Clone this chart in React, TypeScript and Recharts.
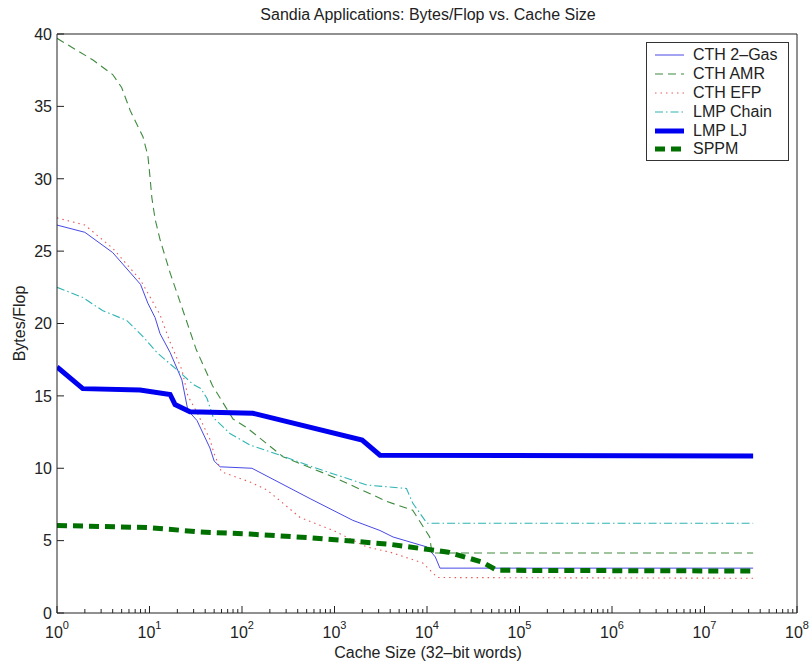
import React from "react";
import { LineChart, Line, XAxis, YAxis, Legend, Customized } from "recharts";

// Bytes/Flop required at each cache size (in 32-bit words), per application.
const CTH_2GAS: [number, number][] = [
  [1, 26.8], [2, 26.3], [4, 24.9], [8, 22.7], [9.6, 21.4], [11.5, 20.4], [13, 19.3],
  [16.7, 18.0], [22.4, 16.1], [26, 14.0], [32.6, 13.3], [45, 11.4], [50, 10.5],
  [58, 10.1], [128, 10.0], [545, 7.9], [1580, 6.4], [3100, 5.7], [4300, 5.25],
  [10000, 4.56], [12300, 3.87], [13800, 3.1], [33554432, 3.1],
];
const CTH_AMR: [number, number][] = [
  [1, 39.7], [2.45, 38.2], [4, 37.2], [5, 36.3], [6.2, 34.7], [8.5, 32.9], [9.6, 31.6],
  [10.1, 30.2], [10.6, 28.7], [11.5, 27.2], [13, 25.8], [16.7, 23.5], [23, 20.9],
  [32, 18.2], [48, 15.7], [80, 13.4], [113, 12.8], [277, 10.8], [970, 9.4],
  [3700, 7.7], [7000, 7.1], [10700, 5.25], [11300, 4.15], [33554432, 4.15],
];
const CTH_EFP: [number, number][] = [
  [1, 27.3], [2, 26.8], [4, 25.2], [8, 23.0], [13, 20.6], [16.7, 18.7], [22.4, 16.8],
  [26, 15.0], [33, 13.8], [45, 12.0], [50, 11.0], [60, 9.75], [122, 9.05], [186, 8.5],
  [425, 6.6], [970, 5.7], [2240, 4.56], [4000, 4.2], [9000, 3.45], [13000, 2.45],
  [33554432, 2.4],
];
const LMP_CHAIN: [number, number][] = [
  [1, 22.5], [1.9, 21.8], [3.1, 20.9], [5.7, 20.2], [8.5, 19.1], [12, 18.0],
  [19.8, 16.8], [29.6, 15.8], [36, 15.5], [42, 14.8], [49, 13.5], [74, 12.4],
  [122, 11.6], [258, 10.9], [640, 10.0], [2240, 8.84], [6000, 8.6], [7000, 7.6],
  [10000, 6.2], [33554432, 6.2],
];
const LMP_LJ: [number, number][] = [
  [1, 17.0], [1.9, 15.5], [7.9, 15.4], [16.7, 15.1], [18.9, 14.4], [27.4, 13.9],
  [131, 13.8], [1990, 11.95], [3100, 10.9], [33554432, 10.85],
];
const SPPM: [number, number][] = [
  [1, 6.05], [10, 5.9], [35, 5.6], [122, 5.45], [545, 5.2], [3950, 4.75],
  [10000, 4.4], [17000, 4.2], [28000, 3.8], [40000, 3.5], [57000, 2.95],
  [33554432, 2.9],
];

const SERIES_NAMES = ["CTH 2\u2013Gas", "CTH AMR", "CTH EFP", "LMP Chain", "LMP LJ", "SPPM"];

// Tick values: decades 10^0..10^8 with minor ticks in between, 0..40 on the y axis.
const X_DECADES = [0, 1, 2, 3, 4, 5, 6, 7, 8];
const Y_TICKS = [0, 5, 10, 15, 20, 25, 30, 35, 40];

const TITLE = "Sandia Applications: Bytes/Flop vs. Cache Size";
const X_LABEL = "Cache Size (32\u2013bit words)";
const Y_LABEL = "Bytes/Flop";

const xTicks: number[] = [];
X_DECADES.forEach((d) => {
  if (d === 8) { xTicks.push(Math.pow(10, d)); return; }
  for (let k = 1; k <= 9; k++) xTicks.push(k * Math.pow(10, d));
});

const FONT = "'Liberation Sans', Arial, Helvetica, sans-serif";
const INK = "#222";

type Style = { color: string; width: number; dash?: string };
const STYLES: Record<string, Style> = {
  "CTH 2\u2013Gas": { color: "#4848e6", width: 1 },
  "CTH AMR": { color: "#3f8a3f", width: 1.1, dash: "8 5" },
  "CTH EFP": { color: "#e65a5a", width: 1.1, dash: "1.5 4" },
  "LMP Chain": { color: "#30b4b4", width: 1.1, dash: "8 3 1.5 3" },
  "LMP LJ": { color: "#0000f0", width: 5 },
  SPPM: { color: "#007000", width: 5, dash: "10 6" },
};

const SERIES_DATA: [number, number][][] = [CTH_2GAS, CTH_AMR, CTH_EFP, LMP_CHAIN, LMP_LJ, SPPM];

const isDecade = (v: number) => Math.abs(Math.log10(v) - Math.round(Math.log10(v))) < 1e-9;

const BottomTick = (props: any) => {
  const { x, y, payload } = props;
  const v = payload.value;
  const major = isDecade(v);
  const e = Math.round(Math.log10(v));
  return (
    <g>
      <line x1={x} x2={x} y1={y} y2={y - (major ? 7 : 4)} stroke={INK} strokeWidth={1} />
      {major && (
        <text x={x} y={y + 25} textAnchor="middle" fontSize={16} fontFamily={FONT} fill={INK}>
          10<tspan dy={-9} fontSize={11}>{e}</tspan>
        </text>
      )}
    </g>
  );
};

const TopTick = (props: any) => {
  const { x, y, payload } = props;
  const major = isDecade(payload.value);
  return <line x1={x} x2={x} y1={y} y2={y + (major ? 7 : 4)} stroke={INK} strokeWidth={1} />;
};

const LeftTick = (props: any) => {
  const { x, y, payload } = props;
  return (
    <g>
      <line x1={x} x2={x + 7} y1={y} y2={y} stroke={INK} strokeWidth={1} />
      <text x={x - 5} y={y + 5.8} textAnchor="end" fontSize={16} fontFamily={FONT} fill={INK}>
        {payload.value}
      </text>
    </g>
  );
};

const RightTick = (props: any) => {
  const { x, y } = props;
  return <line x1={x} x2={x - 7} y1={y} y2={y} stroke={INK} strokeWidth={1} />;
};

const LegendBox = (props: any) => {
  const payload = props.payload || [];
  return (
    <div
      style={{
        border: "1px solid #333",
        background: "#fff",
        width: 141,
        height: 114,
        boxSizing: "content-box",
        paddingTop: 3,
        fontFamily: FONT,
        fontSize: 16,
        color: INK,
      }}
    >
      {payload.map((p: any) => {
        const st = STYLES[p.value];
        return (
          <div key={p.value} style={{ display: "flex", alignItems: "center", height: 18.8 }}>
            <svg width={46} height={12} style={{ flex: "none" }}>
              <line
                x1={8}
                x2={37}
                y1={6}
                y2={6}
                stroke={st.color}
                strokeWidth={st.width}
                strokeDasharray={st.dash}
              />
            </svg>
            <span style={{ whiteSpace: "nowrap", lineHeight: "18px" }}>{p.value}</span>
          </div>
        );
      })}
    </div>
  );
};

const Titles = () => (
  <g fontFamily={FONT} fill={INK}>
    <text x={428} y={20} textAnchor="middle" fontSize={16}>
      {TITLE}
    </text>
    <text x={428} y={658} textAnchor="middle" fontSize={16}>
      {X_LABEL}
    </text>
    <text x={25} y={323.5} textAnchor="middle" fontSize={16} transform="rotate(-90, 25, 323.5)">
      {Y_LABEL}
    </text>
  </g>
);

export default function App() {
  return (
    <div style={{ position: "absolute", left: 0, top: 0, width: 809, height: 662, background: "#fff" }}>
      <LineChart width={809} height={662} margin={{ top: 0, right: 0, bottom: 0, left: 0 }}>
        <XAxis
          xAxisId="bottom"
          dataKey="x"
          type="number"
          scale="log"
          domain={[1, 1e8]}
          allowDataOverflow
          ticks={xTicks}
          interval={0}
          height={49}
          tickSize={0}
          tickMargin={0}
          tickLine={false}
          tick={<BottomTick />}
          axisLine={{ stroke: INK }}
        />
        <XAxis
          xAxisId="top"
          orientation="top"
          type="number"
          scale="log"
          domain={[1, 1e8]}
          allowDataOverflow
          ticks={xTicks}
          interval={0}
          height={34}
          tickSize={0}
          tickMargin={0}
          tickLine={false}
          tick={<TopTick />}
          axisLine={{ stroke: INK }}
        />
        <YAxis
          yAxisId="left"
          type="number"
          domain={[0, 40]}
          ticks={Y_TICKS}
          interval={0}
          width={57}
          tickSize={0}
          tickMargin={0}
          tickLine={false}
          tick={<LeftTick />}
          axisLine={{ stroke: INK }}
        />
        <YAxis
          yAxisId="right"
          orientation="right"
          type="number"
          domain={[0, 40]}
          ticks={Y_TICKS}
          interval={0}
          width={12}
          tickSize={0}
          tickMargin={0}
          tickLine={false}
          tick={<RightTick />}
          axisLine={{ stroke: INK }}
        />
        {SERIES_NAMES.map((name, i) => {
          const st = STYLES[name];
          return (
            <Line
              key={name}
              name={name}
              xAxisId="bottom"
              yAxisId="left"
              data={SERIES_DATA[i].map(([x, y]) => ({ x, y }))}
              dataKey="y"
              type="linear"
              stroke={st.color}
              strokeWidth={st.width}
              strokeDasharray={st.dash}
              dot={false}
              activeDot={false}
              isAnimationActive={false}
            />
          );
        })}
        <Legend
          layout="vertical"
          align="center"
          verticalAlign="middle"
          content={<LegendBox />}
          wrapperStyle={{ left: 646, top: 42, width: 143, height: 118 }}
        />
        <Customized component={Titles} />
      </LineChart>
    </div>
  );
}
